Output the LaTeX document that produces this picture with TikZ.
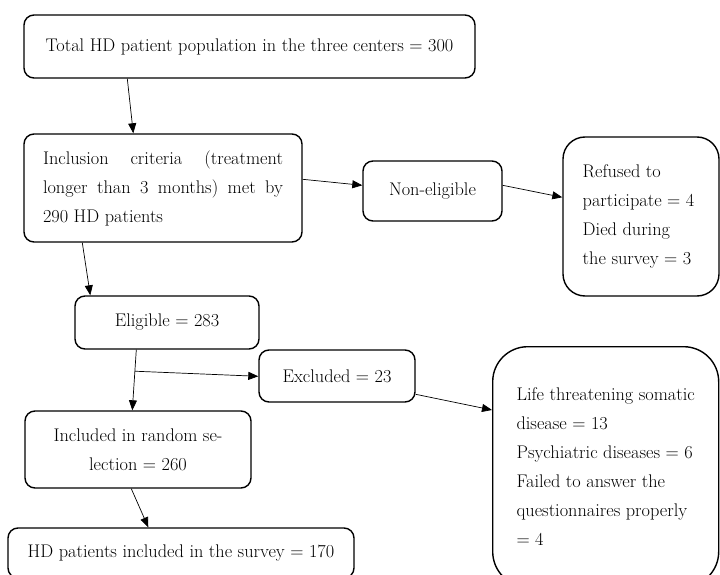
\documentclass[tikz,border=0pt]{standalone}
\usetikzlibrary{arrows.meta,calc}
\begin{document}
\begin{tikzpicture}[x=1pt,y=1pt,
  box/.style={draw=black,line width=1.4pt,rounded corners=10pt,inner sep=0pt,
    font=\fontsize{18.3}{29}\selectfont},
  arr/.style={line width=0.7pt,-{Triangle[length=10pt,width=8pt]}}]
\clip (0,0) rectangle (720,574);
\node[box,minimum width=451pt,minimum height=63pt] (n1) at (249.5,527.5) {Total HD patient population in the three centers = 300};
\node[box,minimum width=278pt,minimum height=108pt,align=left] (n2) at (163,386)
  {\makebox[240pt][s]{Inclusion criteria (treatment}\\\makebox[240pt][s]{longer than 3 months) met by}\\\makebox[240pt][l]{290 HD patients}};
\node[box,minimum width=139pt,minimum height=60pt] (n3) at (432.5,383) {Non-eligible};
\node[box,rounded corners=22pt,minimum width=156pt,minimum height=159pt,align=left] (n4) at (641,357.5)
  {Refused to\\participate = 4\\Died during\\the survey = 3\hspace*{8pt}};
\node[box,minimum width=184pt,minimum height=53pt] (n5) at (167,251.5) {Eligible = 283};
\node[box,minimum width=156pt,minimum height=52pt] (n6) at (337,198) {Excluded = 23};
\node[box,rounded corners=35pt,minimum width=226pt,minimum height=240pt,align=left,anchor=north west] (n7) at (492,228)
  {Life threatening somatic\\disease = 13\\Psychiatric diseases = 6\\Failed to answer the\\questionnaires properly\\= 4};
\node[box,minimum width=226pt,minimum height=77pt,align=center] (n8) at (138,124.5) {Included in random se-\\lection = 260};
\node[box,minimum width=346pt,minimum height=50pt] (n9) at (181,21) {HD patients included in the survey = 170};
\draw[arr] ([xshift=104pt]n1.south west) -- ([xshift=110pt]n2.north west);
\draw[arr] ([yshift=-46pt]n2.north east) -- ([yshift=-25pt]n3.north west);
\draw[arr] ([yshift=-25pt]n3.north east) -- ([yshift=-61pt]n4.north west);
\draw[arr] ([xshift=59pt]n2.south west) -- ([xshift=16pt]n5.north west);
\coordinate (a) at ([xshift=62pt]n5.south west);
\coordinate (b) at ([xshift=108pt]n8.north west);
\draw[arr] (a) -- (b);
\coordinate (br) at ($(a)!0.355!(b)$);
\draw[arr] (br) -- ([yshift=-27pt]n6.north west);
\draw[arr] ([yshift=-45pt]n6.north east) -- ([yshift=-64pt]n7.north west);
\draw[arr] ([xshift=107pt]n8.south west) -- ([xshift=141pt]n9.north west);
\end{tikzpicture}
\end{document}
